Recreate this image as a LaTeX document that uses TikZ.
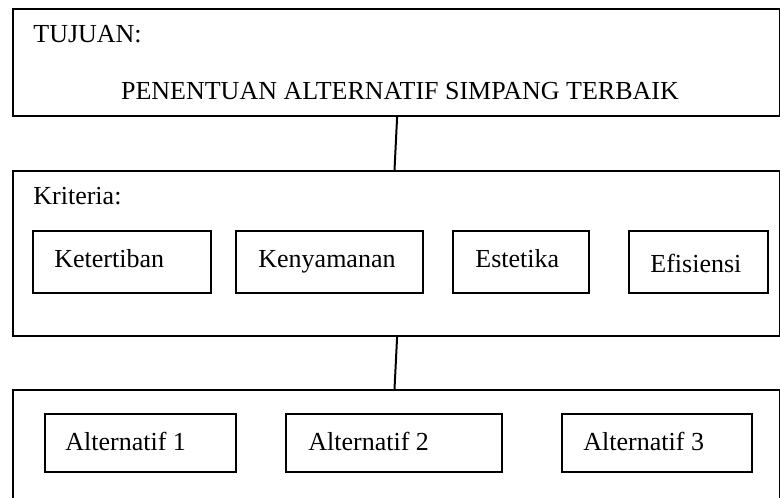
\documentclass[tikz,border=0pt]{standalone}
\usepackage{fontspec}
\setmainfont{Liberation Serif}
\begin{document}
\begin{tikzpicture}[x=0.5pt,y=-0.5pt,
  bigbox/.style={draw=black,line width=1pt,anchor=north west,inner sep=0pt},
  itembox/.style={draw=black,line width=1pt,inner sep=0pt},
  txt/.style={font=\fontsize{13pt}{15pt}\selectfont,inner sep=0pt,anchor=base west},
  link/.style={draw=black,line width=1pt}]
\useasboundingbox (0,0) rectangle (780,497);
\clip (0,0) rectangle (780,497);
% big boxes
\node[bigbox,minimum width=383.5pt,minimum height=53.5pt] (goal) at (12,8) {};
\node[bigbox,minimum width=383.5pt,minimum height=82.5pt] (crit) at (12,170) {};
\node[bigbox,minimum width=383.5pt,minimum height=70pt] (alt) at (12,389) {};
% texts in big boxes
\node[txt] (tgoal) at (33,43) {TUJUAN:};
\node[txt,anchor=base] (tgoalmain) at (400,100) {PENENTUAN ALTERNATIF SIMPANG TERBAIK};
\node[txt] (tcrit) at (33,205) {Kriteria:};
% criteria boxes
\node[itembox,minimum width=89pt,minimum height=31pt] (c1) at (121.5,262) {};
\node[itembox,minimum width=93.5pt,minimum height=31pt] (c2) at (329.5,262) {};
\node[itembox,minimum width=68pt,minimum height=31pt] (c3) at (521,262) {};
\node[itembox,minimum width=69.5pt,minimum height=31pt] (c4) at (698.5,262) {};
\node[txt] (tc1) at (54,267) {Ketertiban};
\node[txt] (tc2) at (258,267) {Kenyamanan};
\node[txt] (tc3) at (475,267) {Estetika};
\node[txt] (tc4) at (650,272) {Efisiensi};
% alternative boxes
\node[itembox,minimum width=95.5pt,minimum height=29pt] (a1) at (140.5,443) {};
\node[itembox,minimum width=108pt,minimum height=29pt] (a2) at (394,443) {};
\node[itembox,minimum width=95pt,minimum height=29pt] (a3) at (657,443) {};
\node[txt] (ta1) at (65,450) {Alternatif 1};
\node[txt] (ta2) at (308,450) {Alternatif 2};
\node[txt] (ta3) at (583,450) {Alternatif 3};
% connectors
\draw[link] ([xshift=0.3pt]goal.south) -- ([xshift=-1pt]crit.north);
\draw[link] ([xshift=0.3pt]crit.south) -- ([xshift=-1pt]alt.north);
\end{tikzpicture}
\end{document}
